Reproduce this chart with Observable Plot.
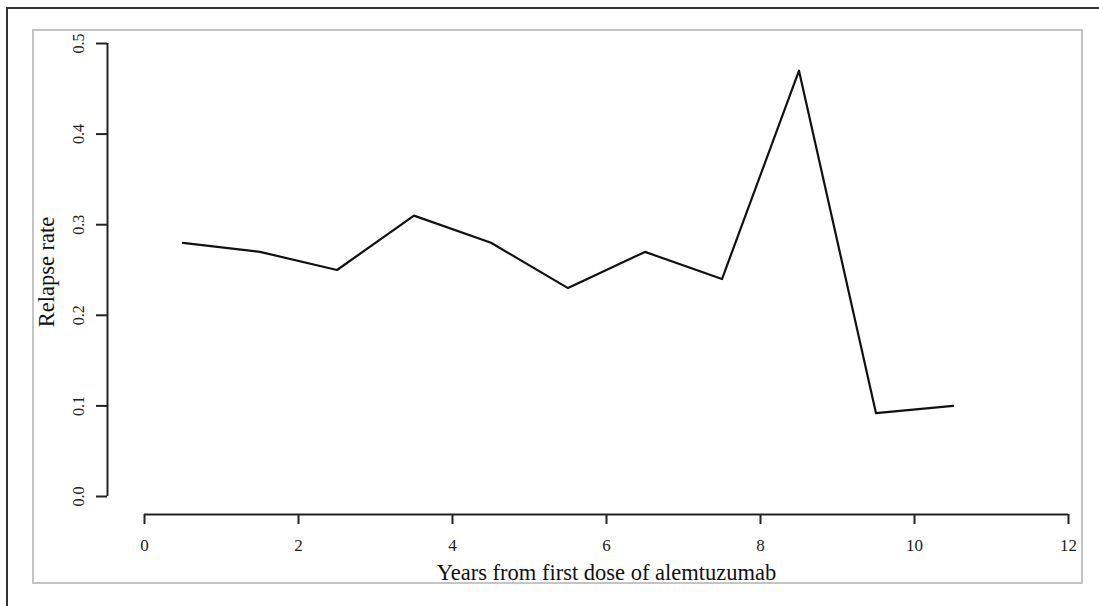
<!DOCTYPE html>
<html>
<head>
<meta charset="utf-8">
<script src="https://cdn.jsdelivr.net/npm/d3@7"></script>
<script src="https://cdn.jsdelivr.net/npm/@observablehq/plot@0.6"></script>
<style>
  html, body { margin: 0; padding: 0; background: #fff; }
  #wrap { position: relative; width: 1099px; height: 606px; overflow: hidden; background: #fff; }
  #outer { position: absolute; left: 6px; top: 7px; width: 1200px; height: 700px; border-left: 2px solid #333; border-top: 2px solid #333; box-sizing: border-box; }
  #inner { position: absolute; left: 32px; top: 29px; width: 1051px; height: 555px; border: 2px solid #c4c4c4; box-sizing: border-box; }
  #chart { position: absolute; left: 0; top: 0; }
</style>
</head>
<body>
<div id="wrap">
  <div id="outer"></div>
  <div id="inner"></div>
  <div id="chart"></div>
</div>
<script>
const years = [0.5, 1.5, 2.5, 3.5, 4.5, 5.5, 6.5, 7.5, 8.5, 9.5, 10.5];
const relapseRate = [0.28, 0.27, 0.25, 0.31, 0.28, 0.23, 0.27, 0.24, 0.47, 0.092, 0.10];
const xTicks = [0, 2, 4, 6, 8, 10, 12];
const yTicks = [0.0, 0.1, 0.2, 0.3, 0.4, 0.5];
const xLabel = "Years from first dose of alemtuzumab";
const yLabel = "Relapse rate";

const data = years.map((x, i) => ({x, y: relapseRate[i]}));
const axisColor = "#222";

const chart = Plot.plot({
  width: 1099,
  height: 606,
  marginLeft: 144,
  marginRight: 31,
  marginTop: 43,
  marginBottom: 110,
  style: {fontFamily: "'Liberation Serif', 'Times New Roman', serif", background: "transparent", color: "#222"},
  x: {domain: [0, 12], axis: null},
  y: {domain: [0, 0.5], axis: null},
  marks: [
    // x axis line + ticks + labels (offset below the plotting region)
    Plot.ruleY([0], {x1: xTicks[0], x2: xTicks[xTicks.length - 1], dy: 18, stroke: axisColor, strokeWidth: 2}),
    Plot.axisX(xTicks, {tickSize: 10, dy: 18, stroke: axisColor, strokeWidth: 2, tickFormat: () => "", label: null}),
    Plot.text(xTicks, {x: d => d, frameAnchor: "bottom", dy: 54, text: d => String(d), fontSize: 17, fill: "#222"}),
    // y axis line + ticks + rotated labels
    Plot.ruleX([0], {y1: yTicks[0], y2: yTicks[yTicks.length - 1], dx: -37, stroke: axisColor, strokeWidth: 2}),
    Plot.axisY(yTicks, {tickSize: 11, dx: -37, stroke: axisColor, strokeWidth: 2, tickFormat: () => "", label: null}),
    Plot.text(yTicks, {y: d => d, frameAnchor: "left", dx: -66, rotate: -90, textAnchor: "middle", text: d => d.toFixed(1), fontSize: 16, fill: "#222"}),
    // axis titles
    Plot.text([xLabel], {frameAnchor: "bottom", dy: 83, text: d => d, fontSize: 22.5, fill: "#111"}),
    Plot.text([yLabel], {frameAnchor: "left", dx: -98, dy: 2, rotate: -90, textAnchor: "middle", text: d => d, fontSize: 22.5, fill: "#111"}),
    // the data line
    Plot.line(data, {x: "x", y: "y", stroke: "#111", strokeWidth: 2.2})
  ]
});
document.getElementById("chart").appendChild(chart);
</script>
</body>
</html>
